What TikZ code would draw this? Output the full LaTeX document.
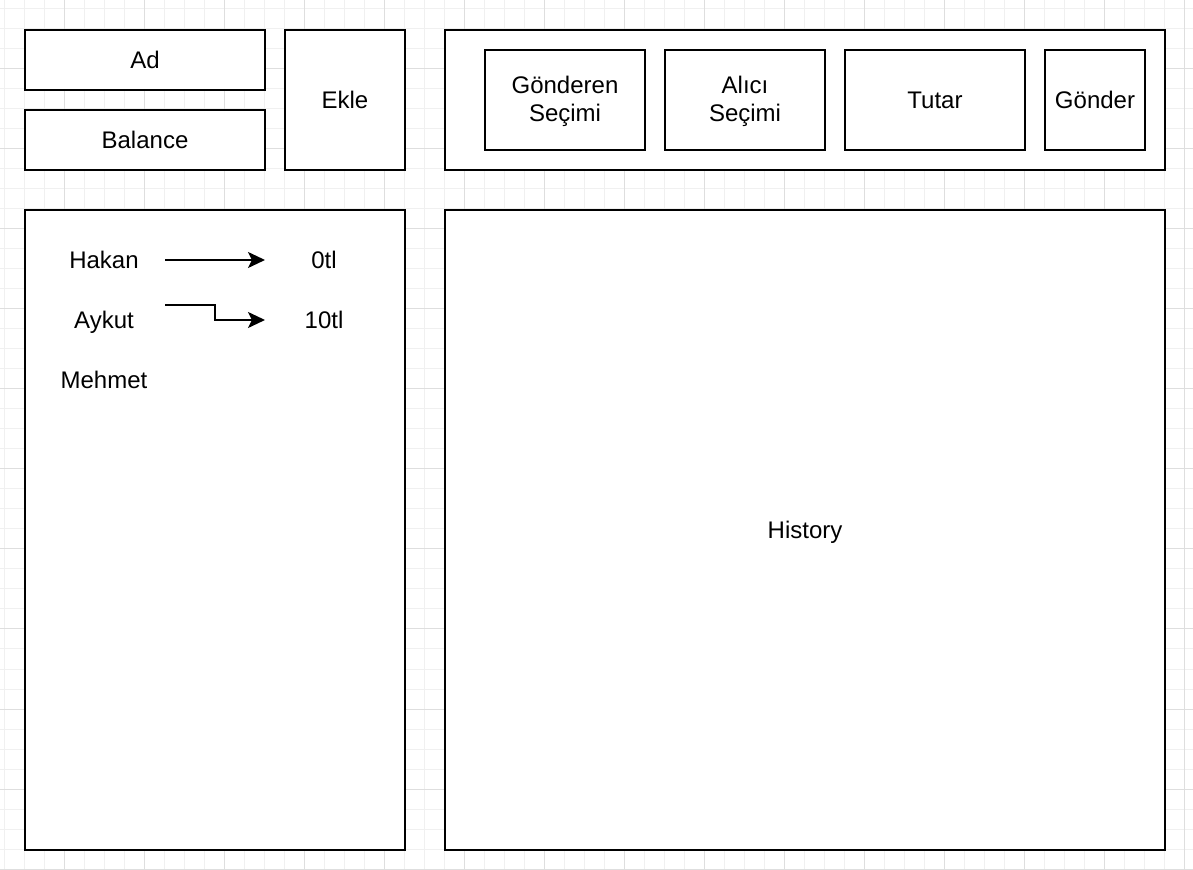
\documentclass[tikz,border=0pt]{standalone}
\usepackage{fontspec}
\setmainfont{Liberation Sans}
\usetikzlibrary{arrows.meta,calc}
\tikzset{
  box/.style={draw=black, line width=1pt, inner sep=0pt, align=center},
  one/.style={text height=8.6pt, text depth=0pt},
  lbl/.style={inner sep=0pt, one},
  conn/.style={draw=black, line width=1pt, -{Stealth[length=8.5pt,width=8pt,inset=2pt]}},
  minorgrid/.style={draw=black!6, line width=0.5pt},
  majorgrid/.style={draw=black!13, line width=0.5pt}
}
\begin{document}
\begin{tikzpicture}[x=0.5pt,y=-0.5pt,font=\fontsize{12pt}{14pt}\selectfont]
\useasboundingbox (0,0) rectangle (1193,870);
\fill[white] (0,0) rectangle (1193,870);
% grid
\foreach \gx in {4,24,...,1193} {\draw[minorgrid] (\gx,0) -- (\gx,870);}
\foreach \gy in {9,29,...,870} {\draw[minorgrid] (0,\gy) -- (1193,\gy);}
\foreach \gx in {64,144,...,1193} {\draw[majorgrid] (\gx,0) -- (\gx,870);}
\foreach \gy in {69,149,...,870} {\draw[majorgrid] (0,\gy) -- (1193,\gy);}
% boxes
\node[box, one, fill=white, minimum width=120pt, minimum height=30pt] (ad) at (145,60) {Ad};
\node[box, one, fill=white, minimum width=120pt, minimum height=30pt] (bal) at (145,140) {Balance};
\node[box, one, fill=white, minimum width=60pt, minimum height=70pt] (ekle) at (345,100) {Ekle};
\node[box, fill=white, minimum width=360pt, minimum height=70pt] (top) at (805,100) {};
\node[box, minimum width=80pt, minimum height=50pt] (gs) at (565,100) {};
\node[box, minimum width=80pt, minimum height=50pt] (as) at (745,100) {};
\node[box, one, minimum width=90pt, minimum height=50pt] (tutar) at (935,100) {Tutar};
\node[box, one, minimum width=50pt, minimum height=50pt] (gonder) at (1095,100) {Gönder};
\node[lbl] (gs1) at (565,85) {Gönderen};
\node[lbl] (gs2) at (565,113) {Seçimi};
\node[lbl] (as1) at (745,85) {Alıcı};
\node[lbl] (as2) at (745,113) {Seçimi};
\node[box, fill=white, minimum width=190pt, minimum height=320pt] (list) at (215,530) {};
\node[box, one, fill=white, minimum width=360pt, minimum height=320pt] (hist) at (805,530) {History};
% list content
\node[lbl] (hakan) at (104,260) {Hakan};
\node[lbl] (t0) at (324,260) {0tl};
\node[lbl] (aykut) at (104,320) {Aykut};
\node[lbl] (t10) at (324,320) {10tl};
\node[lbl] (mehmet) at (104,380) {Mehmet};
\coordinate (a1s) at (165,260);
\coordinate (a1e) at (265,260);
\coordinate (a2s) at (165,305);
\coordinate (a2e) at (265,320);
\draw[conn] (a1s) -- (a1e);
\draw[conn] (a2s) -| ($(a2s)!0.5!(a2e)$) |- (a2e);
\end{tikzpicture}
\end{document}
